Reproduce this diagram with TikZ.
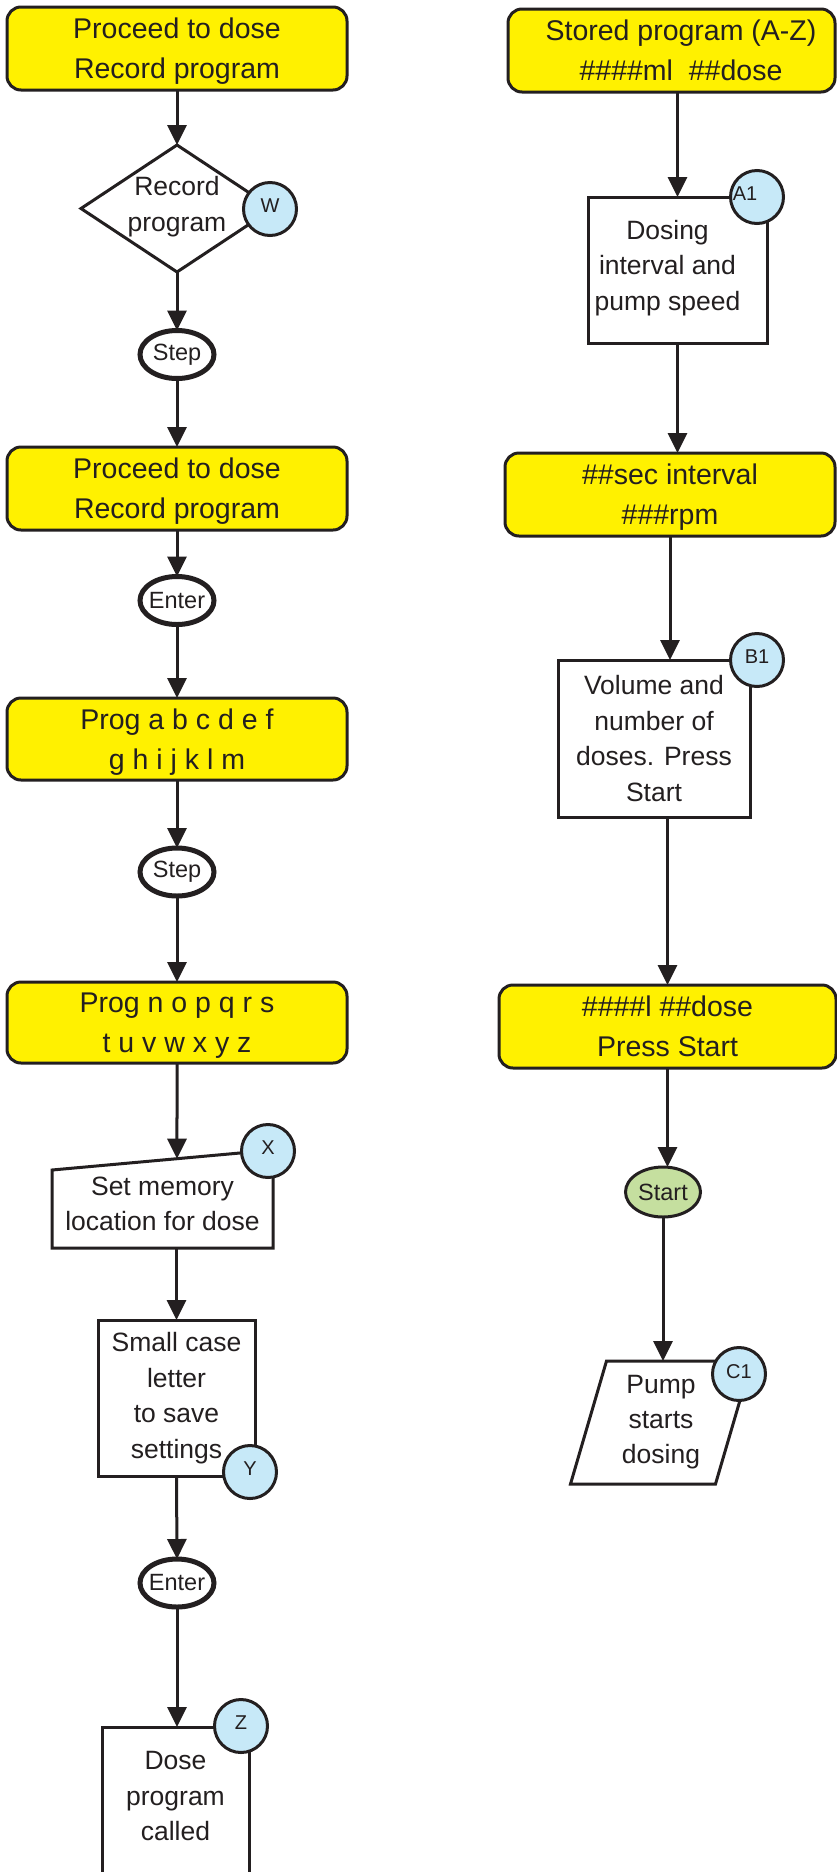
\documentclass[tikz,border=0pt]{standalone}
\usepackage{fontspec}
\setmainfont{Liberation Sans}
\usetikzlibrary{shapes.geometric,arrows.meta,calc}
\definecolor{ylw}{HTML}{FFF100}
\definecolor{lblue}{HTML}{C7E9F8}
\definecolor{lgreen}{HTML}{C5DF9F}
\definecolor{ink}{HTML}{231F20}
\tikzset{
  every node/.style={inner sep=0pt, outer sep=0pt, text=ink},
  bigfont/.style={font=\fontsize{28.5pt}{40pt}\selectfont, align=center},
  midfont/.style={font=\fontsize{26.5pt}{35.5pt}\selectfont, align=center},
  keyfont/.style={font=\fontsize{23.5pt}{28pt}\selectfont},
  tagfont/.style={font=\fontsize{20pt}{24pt}\selectfont},
  ybox/.style={bigfont, draw=ink, line width=3pt, fill=ylw, rounded corners=14pt, text depth=0pt},
  wbox/.style={midfont, draw=ink, line width=3pt, fill=white},
  keyell/.style={keyfont, ellipse, draw=ink, line width=5pt, fill=white, inner xsep=-8pt, minimum width=74pt, minimum height=48pt},
  startell/.style={keyfont, ellipse, draw=ink, line width=3pt, fill=lgreen, inner xsep=-8pt, minimum width=75pt, minimum height=50pt},
  tag/.style={tagfont, circle, draw=ink, line width=3pt, fill=lblue, minimum size=53pt, text depth=6pt},
  arr/.style={draw=ink, line width=3pt, -{Triangle[length=20pt,width=19pt]}},
  outline/.style={draw=ink, line width=3pt, line join=miter}
}
\begin{document}
\begin{tikzpicture}[x=1pt,y=-1pt]
\clip (0,0) rectangle (837,1872);
\fill[white] (0,0) rectangle (837,1872);

% ---------- left column ----------
\node[ybox, minimum width=340pt, minimum height=83pt] (b1) at (177,48.5) {Proceed to dose\\Record program};
\node[diamond, draw=ink, line width=3pt, fill=white, minimum width=192pt, minimum height=127pt,
      label={[midfont, yshift=2pt]center:{Record\\program}}] (d1) at (177,208.5) {};
\node[tag] (W) at (270,209) {W};
\node[keyell] (s1) at (177,354.5) {Step};
\node[ybox, minimum width=340pt, minimum height=83pt] (b2) at (177,488.5) {Proceed to dose\\Record program};
\node[keyell] (e1) at (177,600.5) {Enter};
\node[ybox, minimum width=340pt, minimum height=82pt] (b3) at (177,739) {Prog a b c d e f\\g h i j k l m};
\node[keyell] (s2) at (177,872) {Step};
\node[ybox, minimum width=340pt, minimum height=81pt] (b4) at (177,1022.5) {Prog n o p q r s\\t u v w x y z};
\node[midfont, minimum width=221pt, minimum height=88pt] (mem) at (162.5,1204) {Set memory\\location for dose};
\draw[outline] ($(mem.north west)+(0,10)$) coordinate (memtl) -- ($(mem.north east)+(0,-10)$) coordinate (memtr)
   -- (mem.south east) -- (mem.south west) -- cycle;
\coordinate (memin) at ($(memtl)!0.5656!(memtr)$);
\node[tag] (X) at (268,1151) {X};
\node[wbox, minimum width=157pt, minimum height=156pt] (sc) at (176.5,1398) {Small case\\letter\\to save\\settings};
\node[tag] (Y) at (250,1472) {Y};
\node[keyell] (e2) at (177,1583) {Enter};
\node[midfont, minimum width=147pt, minimum height=138pt] (dose) at (175.5,1796) {Dose\\program\\called};
\draw[outline] ($(dose.south west)+(0,60)$) -- (dose.north west) -- (dose.north east) -- ($(dose.south east)+(0,60)$);
\node[tag] (Z) at (241,1726) {Z};

\draw[arr] (b1.south) -- (d1.north);
\draw[arr] (d1.south) -- (s1.north);
\draw[arr] (s1.south) -- (b2.north);
\draw[arr] (b2.south) -- (e1.north);
\draw[arr] (e1.south) -- (b3.north);
\draw[arr] (b3.south) -- (s2.north);
\draw[arr] (s2.south) -- (b4.north);
\draw[arr] (b4.south) -- (memin);
\draw[arr] (sc.north |- mem.south) -- (sc.north);
\draw[arr] (sc.south) -- (e2.north);
\draw[arr] (e2.south) -- (e2.south |- dose.north);

% ---------- right column ----------
\node[draw=ink, line width=3pt, fill=ylw, rounded corners=14pt, minimum width=327pt, minimum height=83pt,
      label={[bigfont, xshift=9.5pt]center:{Stored program (A-Z)\\\#\#\#\#ml~~\#\#dose}}] (r1) at (671.5,50.5) {};
\node[wbox, minimum width=179pt, minimum height=146pt,
      label={[midfont, xshift=-10pt, yshift=2pt]center:{Dosing\\interval and\\pump speed}}] (a1) at (677.5,270) {};
\node[tag, label={[tagfont, text depth=6pt, xshift=-12pt]center:A1}] (A1) at (757,197) {};
\node[ybox, minimum width=330pt, minimum height=83pt] (r2) at (670,494.5) {\#\#sec interval\\\#\#\#rpm};
\node[wbox, minimum width=192pt, minimum height=157pt] (bx) at (654,738.5) {Volume and\\number of\\doses. Press\\Start};
\node[tag] (B1) at (757,660) {B1};
\node[ybox, minimum width=337pt, minimum height=83pt] (r3) at (667.5,1026.5) {\#\#\#\#l \#\#dose\\Press Start};
\node[startell] (st) at (663,1192) {Start};
\node[font=\fontsize{26.5pt}{35pt}\selectfont, align=center, minimum width=145pt, minimum height=123pt] (pp) at (661,1422.5) {Pump\\starts\\dosing};
\draw[outline] ($(pp.north west)+(18,0)$) -- ($(pp.north east)+(18,0)$) -- ($(pp.south east)+(-18,0)$) -- ($(pp.south west)+(-18,0)$) -- cycle;
\node[tag] (C1) at (739,1374) {C1};

\draw[arr] (r1.south -| a1.north) -- (a1.north);
\draw[arr] (a1.south) -- (a1.south |- r2.north);
\draw[arr] (r2.south) -- (r2.south |- bx.north);
\draw[arr] (r3.north |- bx.south) -- (r3.north);
\draw[arr] (r3.south) -- (r3.south |- st.north);
\draw[arr] (st.south) -- (st.south |- pp.north);
\end{tikzpicture}
\end{document}
